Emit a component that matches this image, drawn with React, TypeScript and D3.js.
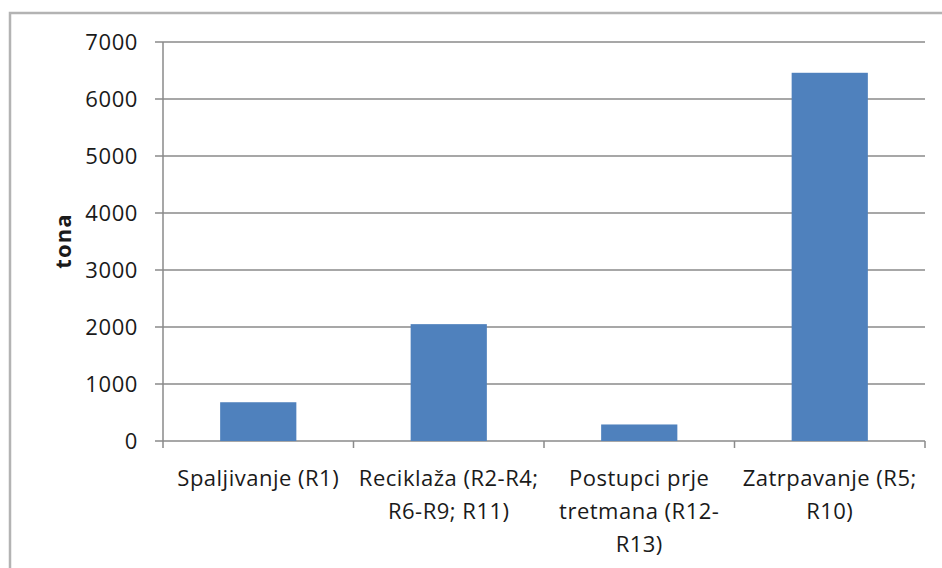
import React from "react";
import * as d3 from "d3";

const categories: string[][] = [
  ["Spaljivanje (R1)"],
  ["Reciklaža (R2-R4;", "R6-R9; R11)"],
  ["Postupci prje", "tretmana (R12-", "R13)"],
  ["Zatrpavanje (R5;", "R10)"],
];
const values: number[] = [680, 2050, 290, 6460];
const yTicks: number[] = [0, 1000, 2000, 3000, 4000, 5000, 6000, 7000];
const yLabel = "tona";

const W = 942;
const H = 568;
const plot = { left: 163, right: 925, top: 42, bottom: 441 };
const FONT = "'Open Sans', sans-serif";

export default function App() {
  const ids = categories.map((_, i) => String(i));
  const x = d3
    .scaleBand<string>()
    .domain(ids)
    .range([plot.left, plot.right])
    .paddingInner(0.6)
    .paddingOuter(0.3);
  const xCat = d3.scaleBand<string>().domain(ids).range([plot.left, plot.right]);
  const y = d3.scaleLinear().domain([0, 7000]).range([plot.bottom, plot.top]);
  const grid = "#8a8a8a";

  return (
    <svg
      width={W}
      height={H}
      style={{ position: "absolute", left: 0, top: 0, background: "#fff" }}
    >
      <rect x={0} y={0} width={W} height={H} fill="#fff" />
      {/* outer frame */}
      <path
        d={`M10,${H + 5} L10,13 L${W + 5},13`}
        fill="none"
        stroke="#b3b3b3"
        strokeWidth={2.5}
      />
      {/* gridlines */}
      {yTicks.map((t) => (
        <line
          key={t}
          x1={plot.left - 8}
          x2={plot.right}
          y1={y(t)}
          y2={y(t)}
          stroke={grid}
          strokeWidth={1.5}
        />
      ))}
      {/* y axis line */}
      <line
        x1={plot.left}
        x2={plot.left}
        y1={plot.top}
        y2={plot.bottom + 7}
        stroke={grid}
        strokeWidth={1.5}
      />
      {/* category ticks */}
      {ids.map((id) => (
        <line
          key={"t" + id}
          x1={(xCat(id) as number) + xCat.bandwidth()}
          x2={(xCat(id) as number) + xCat.bandwidth()}
          y1={plot.bottom}
          y2={plot.bottom + 7}
          stroke={grid}
          strokeWidth={1.5}
        />
      ))}
      {/* bars */}
      {values.map((v, i) => (
        <rect
          key={"b" + i}
          x={x(String(i))}
          width={x.bandwidth()}
          y={y(v)}
          height={y(0) - y(v)}
          fill="#4F81BD"
        />
      ))}
      {/* y tick labels */}
      {yTicks.map((t) => (
        <text
          key={"l" + t}
          x={138}
          y={y(t) + 8}
          textAnchor="end"
          fontFamily={FONT}
          fontSize={22}
          letterSpacing={0.6}
          fill="#1a1a1a"
        >
          {t}
        </text>
      ))}
      {/* y axis title */}
      <text
        transform={`translate(71,241) rotate(-90)`}
        textAnchor="middle"
        fontFamily={FONT}
        fontSize={22}
        letterSpacing={1.2}
        fontWeight="bold"
        fill="#1a1a1a"
      >
        {yLabel}
      </text>
      {/* category labels */}
      {categories.map((lines, i) => (
        <text
          key={"c" + i}
          textAnchor="middle"
          fontFamily={FONT}
          fontSize={22}
          letterSpacing={0.5}
          fill="#1a1a1a"
        >
          {lines.map((ln, j) => (
            <tspan
              key={j}
              x={(xCat(String(i)) as number) + xCat.bandwidth() / 2}
              y={486 + j * 33}
            >
              {ln}
            </tspan>
          ))}
        </text>
      ))}
    </svg>
  );
}
